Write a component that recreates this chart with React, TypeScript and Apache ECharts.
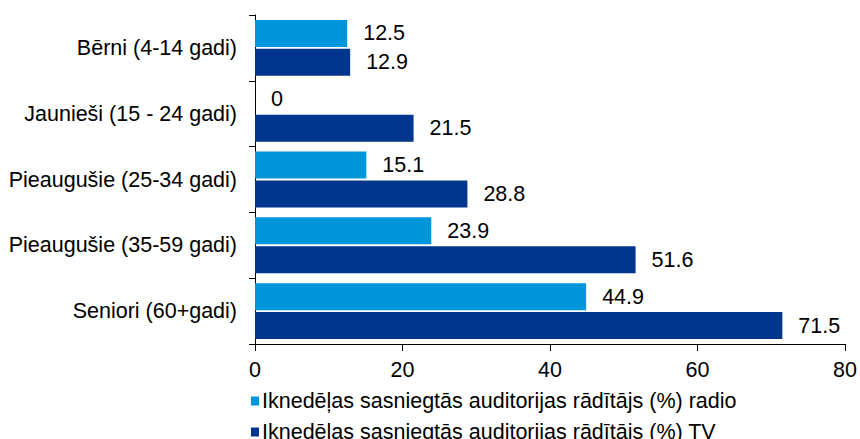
import React, { useEffect, useRef } from "react";
import * as echarts from "echarts";

const categories = [
  "Bērni (4-14 gadi)",
  "Jaunieši (15 - 24 gadi)",
  "Pieaugušie (25-34 gadi)",
  "Pieaugušie (35-59 gadi)",
  "Seniori (60+gadi)",
];
const radioValues = [12.5, 0, 15.1, 23.9, 44.9];
const tvValues = [12.9, 21.5, 28.8, 51.6, 71.5];
const seriesNames = [
  "Iknedēļas sasniegtās auditorijas rādītājs (%) radio",
  "Iknedēļas sasniegtās auditorijas rādītājs (%) TV",
];

const FONT = "Liberation Sans, Arial, sans-serif";
const FS = 21.5;

export default function App() {
  const ref = useRef<HTMLDivElement>(null);
  useEffect(() => {
    document.body.style.margin = "0";
    if (!ref.current) return;
    const chart = echarts.init(ref.current, undefined, { renderer: "svg" });
    const label = {
      show: true,
      position: "right" as const,
      distance: 16,
      color: "#000",
      fontSize: FS,
      fontFamily: FONT,
    };
    const legendBase = {
      orient: "horizontal" as const,
      left: 251,
      padding: 0,
      itemWidth: 8,
      itemHeight: 9,
      icon: "rect",
      textStyle: { fontSize: FS, fontFamily: FONT, color: "#000", padding: [0, 0, 0, -2] },
    };
    chart.setOption({
      animation: false,
      grid: { left: 255, right: 13, top: 15, bottom: 95, containLabel: false },
      legend: [
        { ...legendBase, top: 390, data: [seriesNames[0]] },
        { ...legendBase, top: 421, data: [seriesNames[1]] },
      ],
      xAxis: {
        type: "value",
        min: 0,
        max: 80,
        interval: 20,
        splitLine: { show: false },
        axisLine: { show: true, lineStyle: { color: "#000", width: 1 } },
        axisTick: { show: true, length: 7, lineStyle: { color: "#000" } },
        axisLabel: { fontSize: FS, fontFamily: FONT, color: "#000", margin: 15 },
      },
      yAxis: {
        type: "category",
        inverse: true,
        data: categories,
        axisLine: { show: true, lineStyle: { color: "#000", width: 1 } },
        axisTick: { show: true, length: 6, lineStyle: { color: "#000" } },
        axisLabel: { fontSize: FS, fontFamily: FONT, color: "#000", margin: 18 },
      },
      series: [
        {
          name: seriesNames[0],
          type: "bar",
          data: radioValues,
          barGap: "7%",
          barCategoryGap: "15%",
          itemStyle: { color: "#0096DB" },
          label,
        },
        {
          name: seriesNames[1],
          type: "bar",
          data: tvValues,
          itemStyle: { color: "#00368D" },
          label,
        },
      ],
    });
    return () => chart.dispose();
  }, []);
  return <div ref={ref} style={{ width: 860, height: 439 }} />;
}
